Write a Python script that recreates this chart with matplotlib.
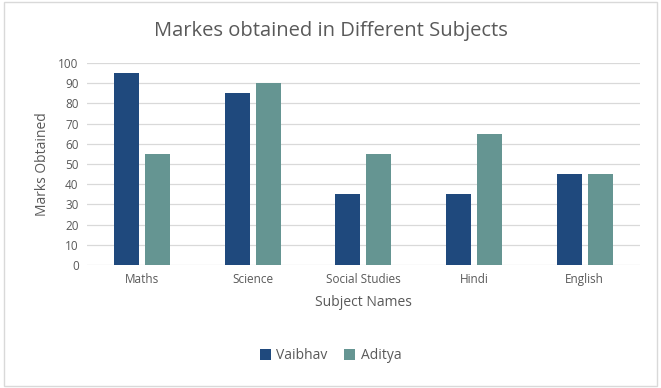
import numpy as np
import matplotlib
matplotlib.use("Agg")
import matplotlib.pyplot as plt
from matplotlib.patches import Rectangle

subjects = ["Maths", "Science", "Social Studies", "Hindi", "English"]
vaibhav = [95, 85, 35, 35, 45]
aditya = [55, 90, 55, 65, 45]

plt.rcParams['font.family'] = ['Open Sans', 'DejaVu Sans']
text_col = '#595959'

fig = plt.figure(figsize=(6.61, 3.88), dpi=100)
ax = fig.add_axes([0.1316, 0.317, 0.8364, 0.5206])

x = np.arange(len(subjects))
w = 0.226
gap = 0.054
ax.bar(x - (w + gap) / 2, vaibhav, w, color='#1f497d', label='Vaibhav', zorder=3)
ax.bar(x + (w + gap) / 2, aditya, w, color='#659592', label='Aditya', zorder=3)

ax.set_xlim(-0.5, len(subjects) - 0.5)
ax.set_ylim(0, 100)
ax.set_yticks(range(0, 101, 10))
ax.set_xticks(x)
ax.set_xticklabels(subjects)
ax.tick_params(length=0, labelsize=8.5, colors=text_col, pad=6)
ax.grid(axis='y', color='#d9d9d9', linewidth=0.9, zorder=0)
for s in ax.spines.values():
    s.set_visible(False)

ax.set_xlabel("Subject Names", fontsize=10, color=text_col, labelpad=6)
ax.set_ylabel("Marks Obtained", fontsize=10, color=text_col, labelpad=6)
fig.text(0.5, 0.92, "Markes obtained in Different Subjects", ha='center', va='center',
         fontsize=14.5, color=text_col)

fig.legend(loc='center', bbox_to_anchor=(0.5, 0.083), ncol=2, frameon=False,
           fontsize=10, handlelength=0.8, handleheight=0.8, columnspacing=1.2,
           handletextpad=0.4, labelcolor=text_col)

fig.patches.append(Rectangle((0.006, 0.005), 0.988, 0.99, transform=fig.transFigure,
                             fill=False, edgecolor='#d9d9d9', linewidth=1))

fig.savefig("out.png", dpi=100)
